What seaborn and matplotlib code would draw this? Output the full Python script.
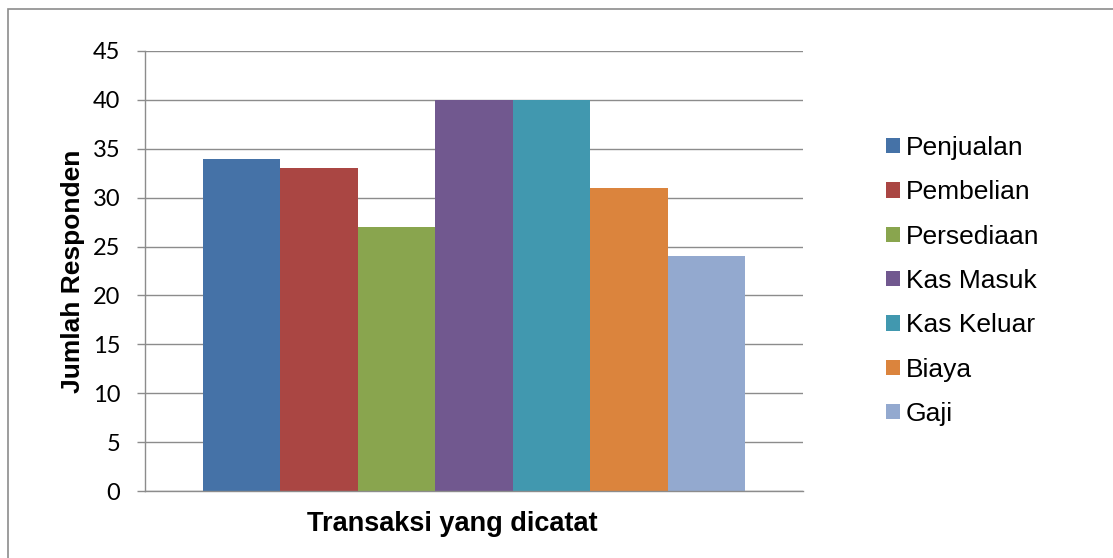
import matplotlib
matplotlib.use("Agg")
import matplotlib.pyplot as plt
import matplotlib.patches as mpatches
import seaborn as sns
import pandas as pd

series = ["Penjualan", "Pembelian", "Persediaan", "Kas Masuk", "Kas Keluar", "Biaya", "Gaji"]
values = [34, 33, 27, 40, 40, 31, 24]
colors = ["#4572A7", "#AA4643", "#89A54E", "#71588F", "#4198AF", "#DB843D", "#93A9CF"]
yticks = [0, 5, 10, 15, 20, 25, 30, 35, 40, 45]

df = pd.DataFrame({"cat": ["Transaksi yang dicatat"] * len(series),
                   "series": series, "val": values})

sns.set_theme(style="white")
plt.rcParams["font.family"] = ["Liberation Sans", "DejaVu Sans"]
plt.rcParams["text.color"] = "black"

W, H = 1113, 558
fig = plt.figure(figsize=(W / 100, H / 100), dpi=100)
ax = fig.add_axes([145 / W, 1 - 491 / H, (803 - 145) / W, (491 - 51) / H])

sns.barplot(data=df, x="cat", y="val", hue="series", hue_order=series,
            palette=colors, width=0.824, saturation=1, dodge=True, ax=ax,
            edgecolor="none", linewidth=0)

grid_c = "#8c8c8c"
ax.set_xlim(-0.5, 0.5)
ax.set_ylim(0, 45)
ax.set_yticks(yticks)
ax.set_yticklabels([str(t) for t in yticks], fontfamily=["Lato", "DejaVu Sans"],
                   fontsize=17, color="black")
ax.set_xticks([])
ax.yaxis.grid(True, color=grid_c, linewidth=1.0)
ax.set_axisbelow(True)
for s in ["top", "right"]:
    ax.spines[s].set_visible(False)
for s in ["left", "bottom"]:
    ax.spines[s].set_color(grid_c)
    ax.spines[s].set_linewidth(1.0)
ax.tick_params(axis="y", length=5.8, width=1.0, color=grid_c, pad=12, left=True, direction="out")

ax.set_ylabel("Jumlah Responden", fontsize=19, fontweight="bold", color="black")
ax.yaxis.set_label_coords(-0.091, 0.5)
ax.set_xlabel("Transaksi yang dicatat", fontsize=19.5, fontweight="bold", color="black")
ax.xaxis.set_label_coords((452.5 - 145) / 658, -0.045)

handles, labels = ax.get_legend_handles_labels()
leg = ax.legend(handles, labels, loc="center left", bbox_to_anchor=(886 / W, 1 - 281 / H),
                bbox_transform=fig.transFigure, frameon=False, fontsize=19,
                handlelength=0.53, handleheight=0.53, handletextpad=0.23,
                labelspacing=0.77, borderpad=0, borderaxespad=0)
for t in leg.get_texts():
    t.set_color("black")

border = mpatches.Rectangle((8 / W, -0.5), 2, 0.5 + 1 - 9 / H, transform=fig.transFigure,
                            fill=False, edgecolor=grid_c, linewidth=1.2, clip_on=False)
fig.add_artist(border)

fig.savefig("out.png", dpi=100, facecolor="white")
